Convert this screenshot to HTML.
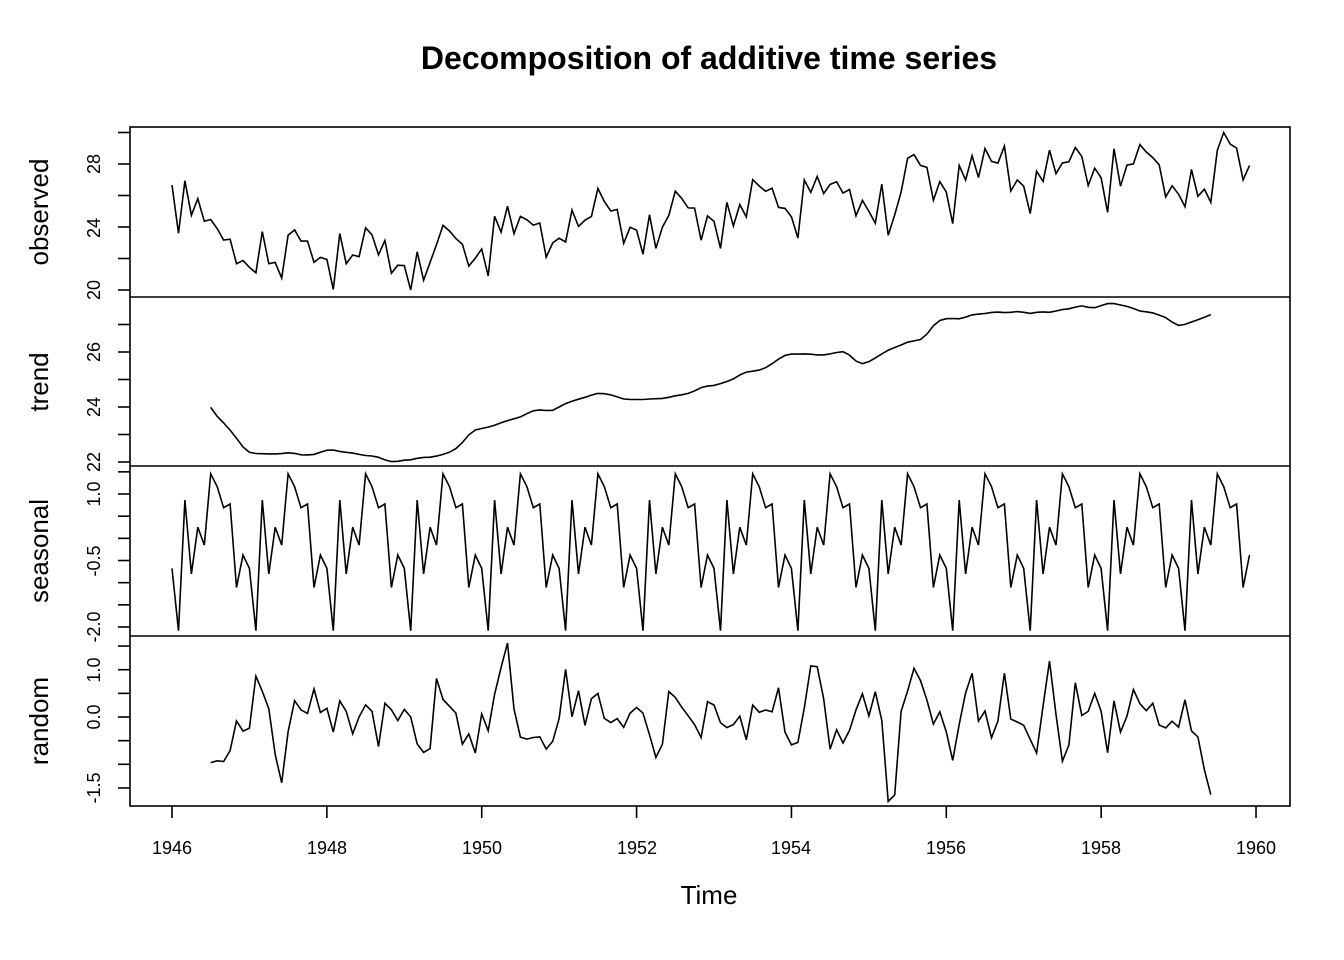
<!DOCTYPE html>
<html><head><meta charset="utf-8"><style>
body{margin:0;background:#fff}
svg{display:block;font-family:"Liberation Sans",Arial,sans-serif}
</style></head><body>
<svg id="s" width="1344" height="960" viewBox="0 0 1344 960" xmlns="http://www.w3.org/2000/svg">
<rect width="1344" height="960" fill="#fff"/>
<text x="709" y="69" text-anchor="middle" font-size="32" font-weight="bold">Decomposition of additive time series</text>
<text x="709" y="904" text-anchor="middle" font-size="26">Time</text>
<g font-size="26" text-anchor="middle">
<text transform="translate(48,212) rotate(-90)">observed</text>
<text transform="translate(48,382) rotate(-90)">trend</text>
<text transform="translate(48,551) rotate(-90)">seasonal</text>
<text transform="translate(48,721) rotate(-90)">random</text>
</g>
<g font-size="18" text-anchor="middle">
<text transform="translate(100,290) rotate(-90)">20</text>
<text transform="translate(100,228) rotate(-90)">24</text>
<text transform="translate(100,164) rotate(-90)">28</text>
<text transform="translate(100,462) rotate(-90)">22</text>
<text transform="translate(100,407) rotate(-90)">24</text>
<text transform="translate(100,352) rotate(-90)">26</text>
<text transform="translate(100,627) rotate(-90)">-2.0</text>
<text transform="translate(100,561) rotate(-90)">-0.5</text>
<text transform="translate(100,494) rotate(-90)">1.0</text>
<text transform="translate(100,788) rotate(-90)">-1.5</text>
<text transform="translate(100,717) rotate(-90)">0.0</text>
<text transform="translate(100,670) rotate(-90)">1.0</text>
</g>
<g font-size="18" text-anchor="middle">
<text x="172" y="854">1946</text><text x="327" y="854">1948</text><text x="482" y="854">1950</text>
<text x="637" y="854">1952</text><text x="791" y="854">1954</text><text x="946" y="854">1956</text>
<text x="1101" y="854">1958</text><text x="1256" y="854">1960</text>
</g>
<g id="g" fill="none" stroke="#000" stroke-width="1.6"></g>
</svg>
<script>
var d=[26.663,23.598,26.931,24.740,25.806,24.364,24.477,23.901,23.175,23.227,21.672,21.870,
21.439,21.089,23.709,21.669,21.752,20.761,23.479,23.824,23.105,23.110,21.759,22.073,
21.937,20.035,23.590,21.672,22.222,22.123,23.950,23.504,22.238,23.142,21.059,21.573,
21.548,20.000,22.424,20.615,21.761,22.874,24.104,23.748,23.262,22.907,21.519,22.025,
22.604,20.894,24.677,23.673,25.320,23.583,24.671,24.454,24.122,24.252,22.084,22.991,
23.287,23.049,25.076,24.037,24.430,24.667,26.451,25.618,25.014,25.110,22.964,23.981,
23.798,22.270,24.775,22.646,23.988,24.737,26.276,25.816,25.210,25.199,23.162,24.707,
24.364,22.644,25.565,24.062,25.431,24.635,27.009,26.606,26.268,26.462,25.246,25.180,
24.657,23.304,26.982,26.199,27.210,26.122,26.706,26.878,26.152,26.379,24.712,25.688,
24.990,24.239,26.721,23.475,24.767,26.219,28.361,28.599,27.914,27.784,25.693,26.881,
26.217,24.218,27.914,26.975,28.527,27.139,28.982,28.169,28.056,29.136,26.291,26.987,
26.589,24.848,27.543,26.896,28.878,27.390,28.065,28.141,29.048,28.484,26.634,27.735,
27.132,24.924,28.963,26.589,27.931,28.009,29.229,28.759,28.405,27.945,25.912,26.619,
26.076,25.286,27.660,25.951,26.398,25.565,28.865,30.000,29.261,29.012,26.992,27.897];
var n=d.length,tr=[],se=[],ra=[];
for(var i=0;i<n;i++){if(i<6||i>n-7){tr.push(null);continue;}
var s=0.5*d[i-6]+0.5*d[i+6];for(var k=-5;k<=5;k++)s+=d[i+k];tr.push(s/12);}
var f=[];for(var m=0;m<12;m++){var s=0,c=0;for(var i=m;i<n;i+=12)if(tr[i]!==null){s+=d[i]-tr[i];c++;}f.push(s/c);}
var mu=f.reduce((a,b)=>a+b)/12;f=f.map(v=>v-mu);
for(var i=0;i<n;i++){se.push(f[i%12]);ra.push(tr[i]===null?null:d[i]-tr[i]-se[i]);}
var X=i=>172+i*(1084/168);
var g=document.getElementById('g'),NS="http://www.w3.org/2000/svg";
function el(t,a){var e=document.createElementNS(NS,t);for(var k in a)e.setAttribute(k,a[k]);g.appendChild(e);}
function line(arr,y0,v0,sc){var p="";arr.forEach((v,i)=>{if(v===null)return;p+=(p?"L":"M")+X(i).toFixed(1)+","+(y0-(v-v0)*sc).toFixed(1);});el("path",{d:p});}
line(d,290,20,15.75);line(tr,462,22,27.5);line(se,627,-2,44.33);line(ra,717,0,47.3);
el("rect",{x:130,y:127,width:1160,height:679});
[297,466,636].forEach(y=>el("line",{x1:130,x2:1290,y1:y,y2:y}));
function ticks(vals,y0,v0,sc){vals.forEach(v=>{var y=y0-(v-v0)*sc;el("line",{x1:118,x2:130,y1:y,y2:y});});}
function tk(a,b,s){var r=[];for(var v=a;v<=b+1e-9;v+=s)r.push(v);return r;}
ticks(tk(20,30,2),290,20,15.75);ticks(tk(22,27,1),462,22,27.5);ticks(tk(-2,1.5,0.5),627,-2,44.33);ticks(tk(-1.5,1.5,0.5),717,0,47.3);
var xs=[];for(var yv=1946;yv<=1960;yv+=2)xs.push(172+(yv-1946)*77.43);
xs.forEach(x=>el("line",{x1:x,x2:x,y1:806,y2:818}));
</script>
</body></html>
